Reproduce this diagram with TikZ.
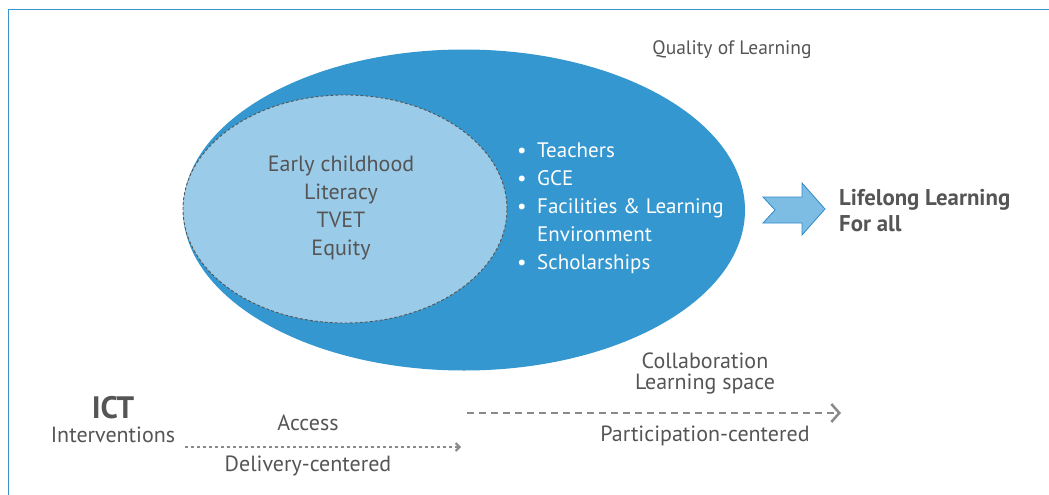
\documentclass[tikz,border=0pt]{standalone}
\usepackage{fontspec}
\setmainfont{PT Sans}
\usetikzlibrary{arrows.meta,shapes.geometric}
\definecolor{outerblue}{HTML}{3497D0}
\definecolor{innerblue}{HTML}{9ACBE8}
\definecolor{framecol}{HTML}{3C92CE}
\definecolor{textgray}{HTML}{555555}
\definecolor{linegray}{HTML}{8A8A8A}
\definecolor{arrowfill}{HTML}{7DBDE4}
\definecolor{arrowline}{HTML}{2D8ACB}

\begin{document}
\begin{tikzpicture}[x=1pt,y=-1pt,
    label/.style={text=textgray,inner sep=0pt,align=center,
      font=\fontsize{22}{21}\selectfont},
    blob/.style={ellipse,inner sep=0pt}]
  \useasboundingbox (0,0) rectangle (1049,495);
  \draw[framecol,line width=1.5pt] (8.5,495) |- (1049,9.5);

  % the two fields
  \node[blob,fill=outerblue,minimum width=562pt,minimum height=321pt] (quality) at (464,210) {};
  \node[blob,fill=innerblue,draw=textgray,line width=0.9pt,dash pattern=on 3pt off 2pt,
    minimum width=324pt,minimum height=228pt] (core) at (345,209) {};
  \node[label,font=\fontsize{22}{28}\selectfont] (coretext) at (341,208)
    {Early childhood\\Literacy\\TVET\\Equity};
  \node[label,text=white,align=left,anchor=west,font=\fontsize{21}{28}\selectfont] (items) at (517,208)
    {\makebox[20pt][l]{•}Teachers\\\makebox[20pt][l]{•}GCE\\
     \makebox[20pt][l]{•}Facilities \& Learning\\\hspace*{20pt}Environment\\
     \makebox[20pt][l]{•}Scholarships};
  \node[label,font=\fontsize{19.5}{20}\selectfont] (qlabel) at (732,50) {Quality of Learning};

  % block arrow
  \coordinate (goal) at (825,209);
  \draw[arrowline,fill=arrowfill,line width=0.8pt,line join=miter]
    (763,197) -- (802,197) -- (802,183) -- (goal) -- (802,235) -- (802,223)
    -- (763,223) -- (775,210) -- cycle;
  \node[label,anchor=west,align=left,font=\bfseries\fontsize{22.8}{26}\selectfont] (lifelong) at (839,211)
    {Lifelong Learning\\For all};

  % ICT
  \node[label,anchor=base,font=\bfseries\fontsize{31}{30}\selectfont] (ict) at (113,418) {ICT};
  \node[label,anchor=base] (interv) at (113,442) {Interventions};

  \coordinate (acc1) at (185,447);
  \coordinate (acc2) at (461,447);
  \draw[linegray,line width=2pt,dash pattern=on 3pt off 3pt,
    -{Straight Barb[length=4pt,width=8pt]}] (acc1) -- (acc2);
  \node[label] (access) at (308,423) {Access};
  \node[label] (delivery) at (308,466) {Delivery-centered};

  \coordinate (par1) at (467,413);
  \coordinate (par2) at (841,413);
  \draw[linegray,line width=2.5pt,dash pattern=on 7pt off 5pt,
    -{Straight Barb[length=8pt,width=18pt]}] (par1) -- (par2);
  \node[label] (collab) at (705,373) {Collaboration\\Learning space};
  \node[label] (particip) at (705,436) {Participation-centered};
\end{tikzpicture}
\end{document}
